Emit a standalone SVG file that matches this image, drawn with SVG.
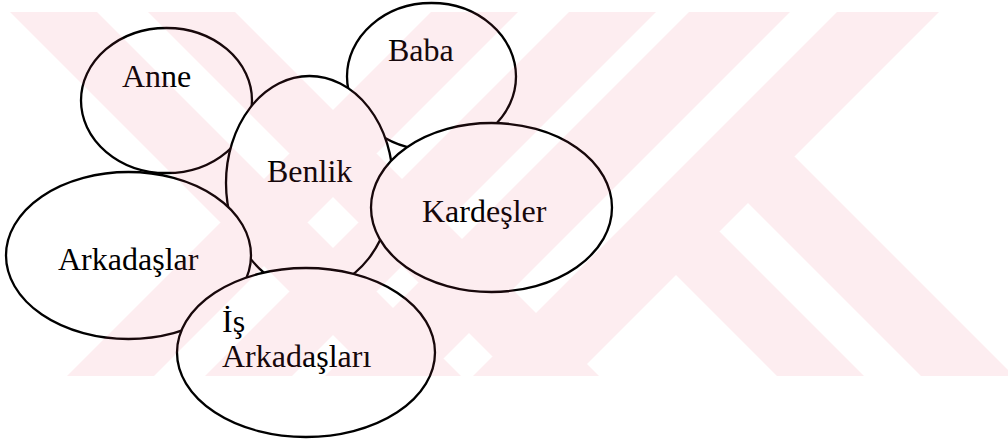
<svg xmlns="http://www.w3.org/2000/svg" width="1008" height="440" viewBox="0 0 1008 440">
  <defs>
    <style>
      .bub { fill: #ffffff; stroke: #000000; stroke-width: 2.3; }
      .lbl { font-family: "Liberation Serif", "Times New Roman", serif; font-size: 32px; fill: #000000; }
    </style>
    <clipPath id="wmclip">
      <rect x="0" y="12" width="1008" height="364"/>
    </clipPath>
  </defs>
  <rect x="0" y="0" width="1008" height="440" fill="#ffffff"/>

  <g id="connectors"/>

  <g id="node-baba">
    <ellipse class="bub" cx="431.5" cy="76.5" rx="84.5" ry="73.5"/>
    <text class="lbl" x="388" y="61">Baba</text>
  </g>
  <g id="node-anne">
    <ellipse class="bub" cx="166.5" cy="100.5" rx="85.5" ry="72.5"/>
    <text class="lbl" x="122" y="87">Anne</text>
  </g>
  <g id="node-benlik">
    <ellipse class="bub" cx="309.5" cy="183" rx="83.5" ry="107"/>
    <text class="lbl" x="267" y="182">Benlik</text>
  </g>
  <g id="node-kardesler">
    <ellipse class="bub" cx="491.5" cy="207.5" rx="120.5" ry="84.5"/>
    <text class="lbl" x="422" y="222">Kardeşler</text>
  </g>
  <g id="node-arkadaslar">
    <ellipse class="bub" cx="128.5" cy="255.5" rx="122.5" ry="83.5"/>
    <text class="lbl" x="58" y="270">Arkadaşlar</text>
  </g>
  <g id="node-is-arkadaslari">
    <ellipse class="bub" cx="306" cy="352.5" rx="129" ry="84.5"/>
    <text class="lbl" x="222" y="332">İş</text>
    <text class="lbl" x="222" y="367">Arkadaşları</text>
  </g>

  <g id="watermark" clip-path="url(#wmclip)" opacity="0.1" fill="rgb(235,75,105)">
    <path d="M0,2 L87,2 L471,386 L384,386 Z M138,2 L225,2 L609,386 L522,386 Z M441,2 L528,2 L144,386 L57,386 Z M579,2 L666,2 L282,386 L195,386 Z M699,2 L800,2 L416,386 L315,386 Z M847,2 L949,2 L565,386 L463,386 Z M625,224 L668.5,180.5 L874,386 L787,386 Z M697,152 L743.5,105.5 L1024,386 L931,386 Z"/>
  </g>
</svg>
